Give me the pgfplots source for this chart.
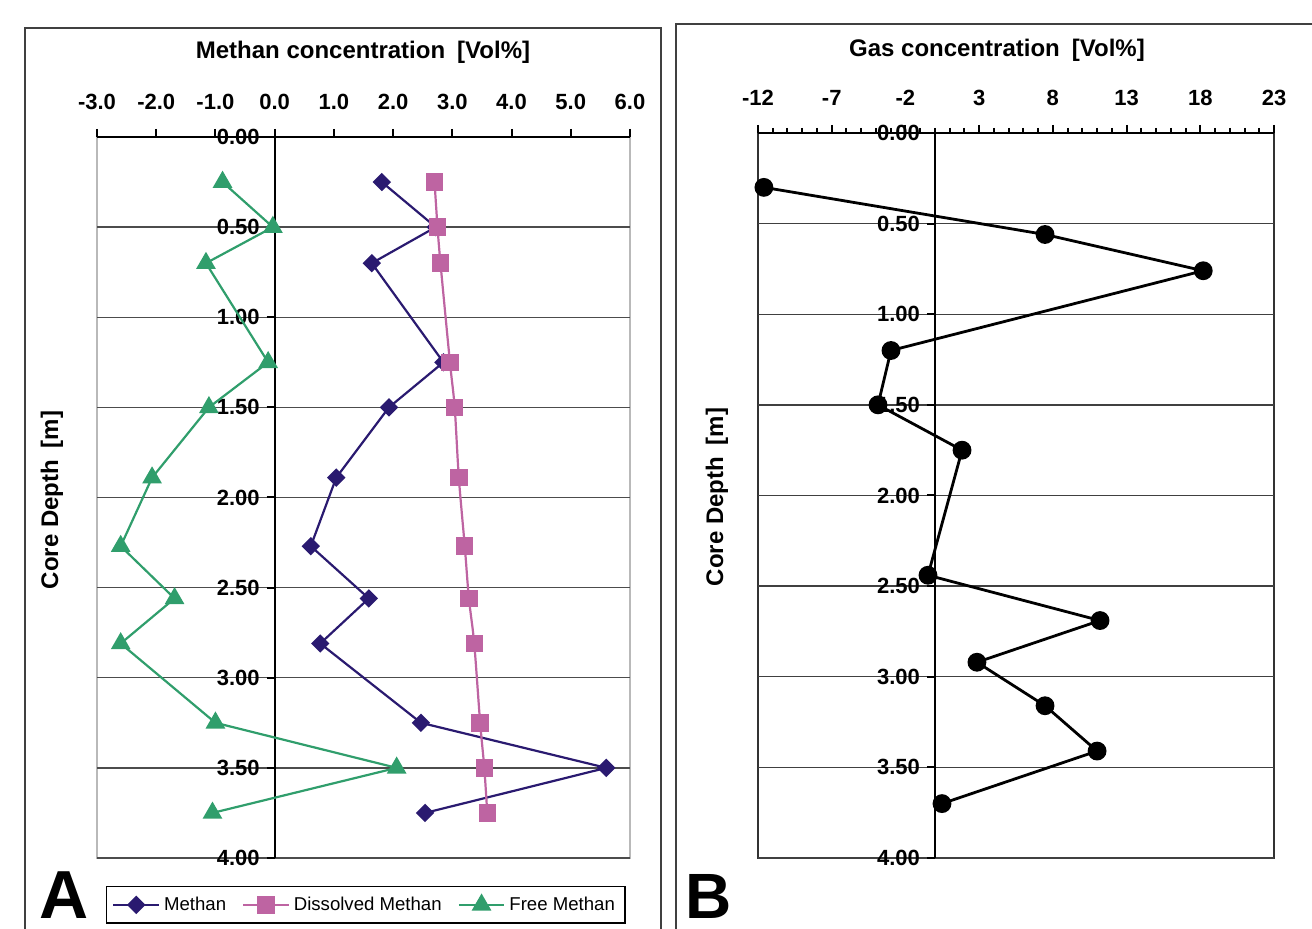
\documentclass[border=0pt]{standalone}
\usepackage{fontspec}
\setmainfont{Liberation Sans}
\usepackage{pgfplots}
\pgfplotsset{compat=1.18}
\definecolor{cMeth}{RGB}{42,26,112}
\definecolor{cDiss}{RGB}{190,100,162}
\definecolor{cFree}{RGB}{48,158,108}
\pgfplotsset{
  every tick label/.append style={font=\bfseries\fontsize{11}{12}\selectfont},
  /pgf/number format/assume math mode=true,
}
\begin{document}
\begin{tikzpicture}
\useasboundingbox (0,0) rectangle (656pt,464.5pt);
\draw[line width=1pt, black!75] (12.5pt,-5pt) rectangle (330.5pt,450.5pt);
\draw[line width=1pt, black!75] (338pt,-5pt) rectangle (665pt,452.5pt);

\begin{axis}[
  at={(48.5pt,35.5pt)}, anchor=south west, scale only axis,
  width=266.5pt, height=360.5pt,
  xmin=-3, xmax=6, ymin=0, ymax=4, y dir=reverse,
  axis x line=top, axis y line=middle,
  hide obscured y ticks=false, hide obscured x ticks=false,
  axis line style={-, line width=1pt, black},
  axis background/.style={draw=gray!55, line width=0.8pt},
  xtick={-3,...,6}, ytick={0,0.5,...,4},
  xticklabel style={yshift=6pt, /pgf/number format/.cd, fixed, fixed zerofill, precision=1},
  yticklabel style={/pgf/number format/.cd, fixed, fixed zerofill, precision=2},
  tick align=outside, major tick length=4pt,
  tick style={black, line width=1pt},
  ymajorgrids, grid style={black!70, line width=0.7pt},
  clip=false,
  legend columns=3,
  legend style={at={(0.504,-0.065)}, anchor=center, draw=black, line width=0.8pt,
    font=\fontsize{9.3}{10}\selectfont, inner xsep=3pt, inner ysep=3pt,
    /tikz/every even column/.append style={column sep=6pt}},
  legend image code/.code={\draw[mark repeat=2,mark phase=2] plot coordinates {(0cm,0cm) (0.4cm,0cm) (0.8cm,0cm)};},
]
\addplot[cMeth, line width=1.1pt, mark=square*, mark size=2.7pt, mark options={fill=cMeth, rotate=45}]
 coordinates {(1.81,0.25) (2.72,0.5) (1.64,0.7) (2.85,1.25) (1.93,1.5) (1.04,1.89) (0.61,2.27) (1.59,2.56) (0.77,2.81) (2.47,3.25) (5.60,3.5) (2.54,3.75)};
\addlegendentry{Methan}
\addplot[cDiss, line width=1.1pt, smooth, mark=square*, mark size=3.8pt, mark options={fill=cDiss}]
 coordinates {(2.70,0.25) (2.75,0.5) (2.80,0.7) (2.96,1.25) (3.04,1.5) (3.11,1.89) (3.21,2.27) (3.28,2.56) (3.37,2.81) (3.47,3.25) (3.54,3.5) (3.59,3.75)};
\addlegendentry{Dissolved Methan}
\addplot[cFree, line width=1.1pt, mark=triangle*, mark size=4.6pt, mark options={fill=cFree}]
 coordinates {(-0.88,0.25) (-0.03,0.5) (-1.16,0.7) (-0.11,1.25) (-1.11,1.5) (-2.07,1.89) (-2.60,2.27) (-1.69,2.56) (-2.60,2.81) (-1.00,3.25) (2.06,3.5) (-1.05,3.75)};
\addlegendentry{Free Methan}
\end{axis}

\begin{axis}[
  at={(379pt,35.5pt)}, anchor=south west, scale only axis,
  width=258pt, height=362.5pt,
  xmin=-12, xmax=23, ymin=0, ymax=4, y dir=reverse,
  axis x line=top, axis y line=middle,
  hide obscured y ticks=false, hide obscured x ticks=false,
  axis line style={-, line width=1pt, black},
  axis background/.style={draw=black!80, line width=0.7pt},
  xtick={-12,-7,...,23}, minor x tick num=4, ytick={0,0.5,...,4},
  xticklabel style={yshift=6pt},
  yticklabel style={/pgf/number format/.cd, fixed, fixed zerofill, precision=2},
  tick align=outside, major tick length=4pt, minor tick length=2.5pt,
  tick style={black, line width=1pt},
  ymajorgrids, grid style={black!75, line width=0.7pt},
  clip=false,
]
\addplot[black, line width=1.4pt, mark=*, mark size=4pt]
 coordinates {(-11.6,0.30) (7.47,0.56) (18.2,0.76) (-2.98,1.20) (-3.86,1.50) (1.84,1.75) (-0.47,2.44) (11.2,2.69) (2.85,2.92) (7.47,3.16) (11.0,3.41) (0.48,3.70)};
\end{axis}

\node[font=\bfseries\fontsize{12}{14}\selectfont] at (181.5pt,438.5pt) {Methan concentration\enspace[Vol\%]};
\node[font=\bfseries\fontsize{12}{14}\selectfont] at (498.5pt,439.5pt) {Gas concentration\enspace[Vol\%]};
\node[font=\bfseries\fontsize{12}{14}\selectfont, rotate=90] at (26pt,214.5pt) {Core Depth\enspace[m]};
\node[font=\bfseries\fontsize{12}{14}\selectfont, rotate=90] at (358.5pt,216pt) {Core Depth\enspace[m]};
\node[font=\bfseries\fontsize{34}{34}\selectfont, inner sep=0pt] at (32.25pt,17pt) {A};
\node[font=\bfseries\fontsize{32}{32}\selectfont, inner sep=0pt] at (354.5pt,16.5pt) {B};
\end{tikzpicture}
\end{document}
